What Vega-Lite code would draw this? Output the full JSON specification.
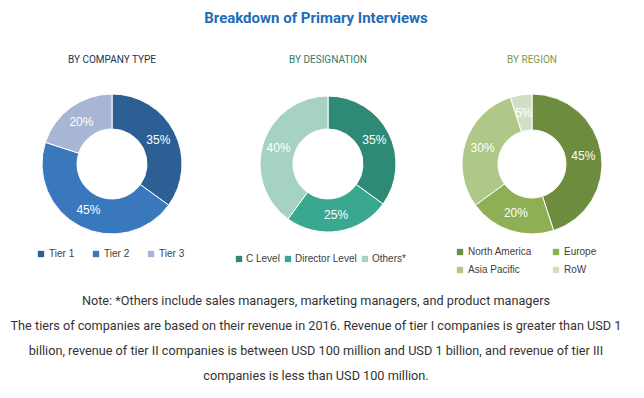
{
  "$schema": "https://vega.github.io/schema/vega-lite/v6.json",
  "background": "white",
  "padding": {"left": 4, "top": 11, "right": 0, "bottom": 0},
  "title": {
    "text": "Breakdown of Primary Interviews",
    "font": "Roboto, sans-serif",
    "fontSize": 15,
    "fontWeight": "bold",
    "color": "#1F6DB6",
    "anchor": "middle",
    "offset": 29
  },
  "vconcat": [
    {
      "title": {
        "text": [
          "Note: *Others include sales managers, marketing managers, and product managers",
          "The tiers of companies are based on their revenue in 2016. Revenue of tier I companies is greater than USD 1",
          "billion, revenue of tier II companies is between USD 100 million and USD 1 billion, and revenue of tier III",
          "companies is less than USD 100 million."
        ],
        "orient": "bottom",
        "anchor": "middle",
        "font": "Roboto, sans-serif",
        "fontSize": 12.7,
        "fontWeight": "normal",
        "color": "#333333",
        "lineHeight": 25,
        "offset": 20
      },
      "spacing": 0,
      "resolve": {"scale": {"color": "independent"}, "legend": {"color": "independent"}},
      "hconcat": [
        {
          "title": {"text": "BY COMPANY TYPE", "color": "#1E3350"},
          "width": 216,
          "height": 150,
          "data": {
            "values": [
              {"category": "Tier 1", "share": 0.35, "order": 1},
              {"category": "Tier 2", "share": 0.45, "order": 2},
              {"category": "Tier 3", "share": 0.20, "order": 3}
            ]
          },
          "encoding": {
            "theta": {"field": "share", "type": "quantitative", "stack": true, "scale": {"domain": [0, 1]}},
            "order": {"field": "order", "type": "quantitative"}
          },
          "layer": [
            {
              "mark": {"type": "arc", "innerRadius": 35, "outerRadius": 70, "stroke": "white", "strokeWidth": 1},
              "encoding": {
                "color": {
                  "field": "category", "type": "nominal",
                  "scale": {"domain": ["Tier 1", "Tier 2", "Tier 3"], "range": ["#2D5F94", "#3A78BE", "#A6B6D4"]},
                  "legend": {"orient": "none", "legendX": 32, "legendY": 160, "columns": 3, "columnPadding": 16}
                }
              }
            },
            {
              "mark": {"type": "text", "radius": 52, "fill": "white", "fontSize": 12, "font": "Liberation Sans, Arial, sans-serif"},
              "encoding": {
                "text": {"field": "share", "type": "quantitative", "format": ".0%"},
                "detail": {"field": "category", "type": "nominal"}
              }
            }
          ]
        },
        {
          "title": {"text": "BY DESIGNATION", "color": "#2E7D6A"},
          "width": 216,
          "height": 150,
          "data": {
            "values": [
              {"category": "C Level", "share": 0.35, "order": 1},
              {"category": "Director Level", "share": 0.25, "order": 2},
              {"category": "Others*", "share": 0.40, "order": 3}
            ]
          },
          "encoding": {
            "theta": {"field": "share", "type": "quantitative", "stack": true, "scale": {"domain": [0, 1]}},
            "order": {"field": "order", "type": "quantitative"}
          },
          "layer": [
            {
              "mark": {"type": "arc", "innerRadius": 35, "outerRadius": 68, "stroke": "white", "strokeWidth": 1},
              "encoding": {
                "color": {
                  "field": "category", "type": "nominal",
                  "scale": {"domain": ["C Level", "Director Level", "Others*"], "range": ["#2E8A75", "#3AA890", "#A6D2C4"]},
                  "legend": {"orient": "none", "legendX": 14, "legendY": 165, "columns": 3, "columnPadding": 3, "labelOffset": 2}
                }
              }
            },
            {
              "mark": {"type": "text", "radius": 52, "fill": "white", "fontSize": 12, "font": "Liberation Sans, Arial, sans-serif"},
              "encoding": {
                "text": {"field": "share", "type": "quantitative", "format": ".0%"},
                "detail": {"field": "category", "type": "nominal"}
              }
            }
          ]
        },
        {
          "title": {"text": "BY REGION", "color": "#7C9A4C"},
          "width": 192,
          "height": 150,
          "data": {
            "values": [
              {"category": "North America", "share": 0.45, "order": 1},
              {"category": "Europe", "share": 0.20, "order": 2},
              {"category": "Asia Pacific", "share": 0.30, "order": 3},
              {"category": "RoW", "share": 0.05, "order": 4}
            ]
          },
          "encoding": {
            "theta": {"field": "share", "type": "quantitative", "stack": true, "scale": {"domain": [0, 1]}},
            "order": {"field": "order", "type": "quantitative"}
          },
          "layer": [
            {
              "mark": {"type": "arc", "innerRadius": 34, "outerRadius": 70, "stroke": "white", "strokeWidth": 1},
              "encoding": {
                "color": {
                  "field": "category", "type": "nominal",
                  "scale": {"domain": ["North America", "Europe", "Asia Pacific", "RoW"], "range": ["#6E8C3E", "#8FAF54", "#AFC887", "#D3DFC4"]},
                  "legend": {"orient": "none", "legendX": 19, "legendY": 158, "columns": 2, "columnPadding": 19, "rowPadding": 8}
                }
              }
            },
            {
              "mark": {"type": "text", "radius": 52, "fill": "white", "fontSize": 12, "font": "Liberation Sans, Arial, sans-serif"},
              "encoding": {
                "text": {"field": "share", "type": "quantitative", "format": ".0%"},
                "detail": {"field": "category", "type": "nominal"}
              }
            }
          ]
        }
      ]
    }
  ],
  "config": {
    "view": {"stroke": null},
    "title": {
      "font": "Roboto, sans-serif",
      "fontSize": 10,
      "fontWeight": "normal",
      "anchor": "middle",
      "offset": 24
    },
    "legend": {
      "direction": "horizontal",
      "title": null,
      "symbolType": "square",
      "symbolSize": 40,
      "symbolStrokeWidth": 0,
      "labelFont": "Liberation Sans, Arial, sans-serif",
      "labelFontSize": 10,
      "labelColor": "#404040",
      "labelOffset": 3,
      "padding": 0
    }
  }
}
